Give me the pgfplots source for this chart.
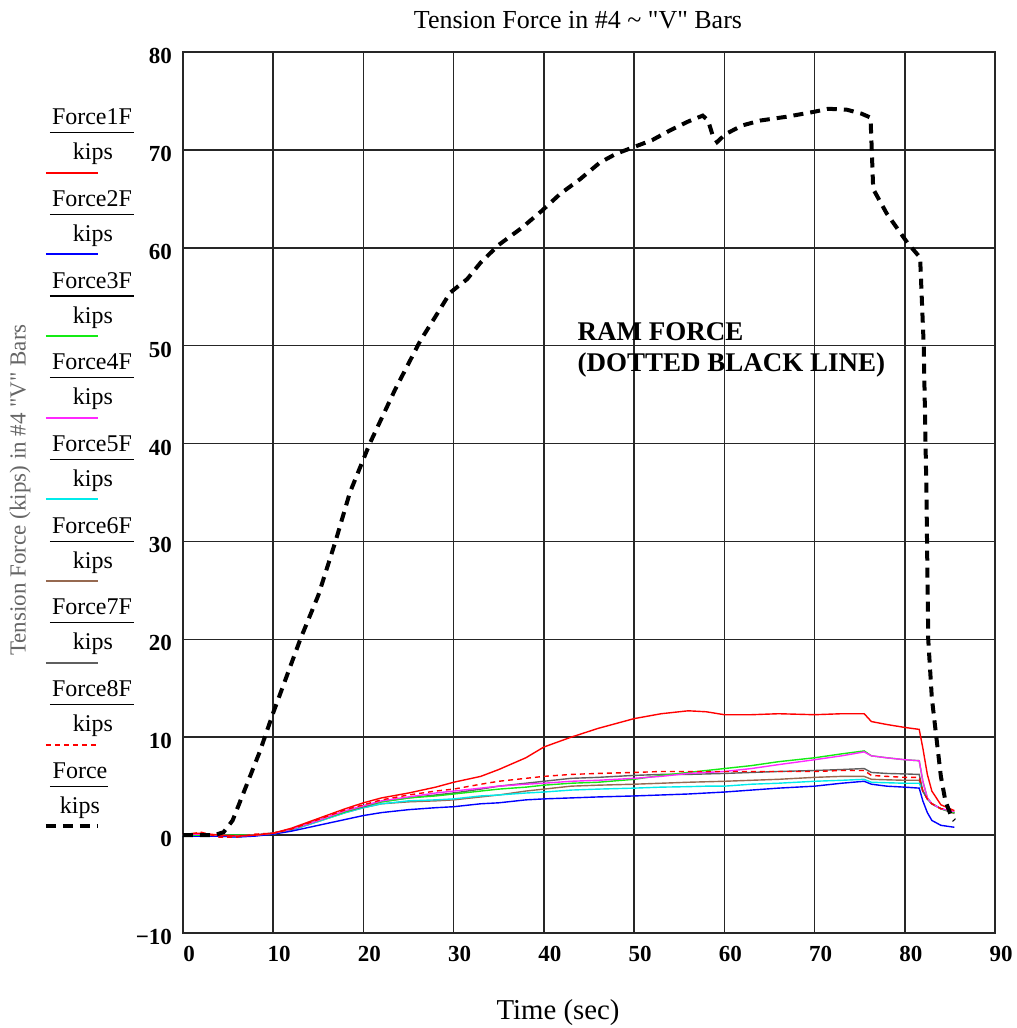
\documentclass[border=0pt]{standalone}
\usepackage{pgfplots}
\pgfplotsset{compat=1.18}
\usepackage{pgfplotstable}
\usepackage{fontspec}
\setmainfont{Liberation Serif}
\usetikzlibrary{calc}

\definecolor{fgreen}{RGB}{20,235,20}
\definecolor{fmag}{RGB}{255,40,255}
\definecolor{fcyan}{RGB}{0,235,235}
\definecolor{fbrown}{RGB}{150,105,80}
\definecolor{fgray}{RGB}{95,95,95}

\tikzset{
  s1/.style={red, line width=0.7pt},
  s2/.style={blue, line width=0.7pt},
  s3/.style={fgreen, line width=0.7pt},
  s4/.style={fmag, line width=0.7pt},
  s5/.style={fcyan, line width=0.7pt},
  s6/.style={fbrown, line width=0.7pt},
  s7/.style={fgray, line width=0.7pt},
  s8/.style={red, line width=0.7pt, dash pattern=on 2.5pt off 2pt},
  s9/.style={black, line width=2pt, dash pattern=on 5pt off 3.5pt},
}

% bar forces, kips
\pgfplotstableread{
x     f1    f2    f3   f4   f5    f6    f7    f8
0     0.1  -0.1   0.0  0.1  0.0   0.0   0.1   0.0
2     0.2  -0.1   0.0  0.1 -0.1   0.0   0.0   0.3
4     0.0  -0.1   0.0  0.0 -0.1   0.0   0.0  -0.2
6    -0.1  -0.2   0.0 -0.1 -0.2  -0.1   0.0  -0.2
8     0.0  -0.1   0.0  0.0  0.0   0.0   0.0   0.1
10    0.2   0.1   0.2  0.2  0.1   0.2   0.2   0.2
12    0.7   0.4   0.6  0.6  0.5   0.5   0.6   0.6
15    1.7   1.0   1.5  1.5  1.4   1.4   1.5   1.6
18    2.7   1.6   2.4  2.5  2.3   2.3   2.4   2.6
20    3.3   2.0   3.0  3.0  2.8   2.8   2.9   3.1
22    3.8   2.3   3.4  3.5  3.2   3.2   3.4   3.6
25    4.3   2.6   3.8  3.9  3.5   3.4   3.8   4.1
28    4.9   2.8   4.0  4.3  3.6   3.5   4.1   4.5
30    5.4   2.9   4.2  4.5  3.7   3.6   4.3   4.7
33    6.0   3.2   4.5  4.8  4.0   3.9   4.7   5.2
35    6.7   3.3   4.7  5.0  4.1   4.1   5.0   5.5
38    7.9   3.6   4.9  5.2  4.3   4.5   5.3   5.8
40    9.0   3.7   5.1  5.3  4.4   4.7   5.5   6.0
43   10.0   3.8   5.3  5.5  4.6   5.0   5.8   6.2
46   10.9   3.9   5.4  5.6  4.7   5.1   5.9   6.3
50   11.9   4.0   5.7  5.8  4.8   5.2   6.1   6.4
53   12.4   4.1   6.1  6.0  4.9   5.3   6.2   6.5
56   12.7   4.2   6.4  6.3  4.95  5.4   6.2   6.5
58   12.6   4.3   6.6  6.4  5.0   5.45  6.25  6.5
60   12.3   4.4   6.8  6.5  5.0   5.5   6.3   6.5
63   12.3   4.6   7.1  6.8  5.2   5.6   6.4   6.5
66   12.4   4.8   7.5  7.2  5.3   5.7   6.5   6.5
70   12.3   5.0   7.9  7.7  5.5   5.9   6.6   6.5
73   12.4   5.3   8.3  8.1  5.6   6.0   6.7   6.6
75.5 12.4   5.5   8.6  8.5  5.7   6.0   6.8   6.6
76.3 11.6   5.2   8.1  8.1  5.4   5.7   6.4   6.1
78   11.3   5.0   7.9  7.9  5.35  5.65  6.3   6.0
80   11.0   4.9   7.7  7.7  5.3   5.6   6.25  5.9
81.6 10.8   4.8   7.6  7.6  5.3   5.6   6.2   5.9
82    8.9   3.5   5.5  5.5  4.5   4.5   4.5   4.5
82.5  6.2   2.3   3.8  3.8  3.7   3.7   3.7   3.7
83    4.5   1.5   3.2  3.2  3.2   3.2   3.2   3.2
84    3.1   1.0   2.7  2.7  2.7   2.7   2.7   2.7
85.5  2.5   0.8   2.3  2.4  2.3   2.2   2.3   2.5
}\bars

% ram force, kips
\pgfplotstableread{
x     ram
0     0.0
3.5   0.0
4.5   0.3
5.5   1.5
7     5.0
8.5   8.5
10   12.5
13   20.0
15   24.5
16.9 30.0
18.5 35.0
20.7 40.0
23.5 45.5
26.3 50.5
28   53.0
29.6 55.4
30.4 56.0
31.5 56.8
33   58.5
35   60.3
37.5 62.0
39.8 63.8
41.8 65.5
44   67.0
46.2 68.7
48   69.6
50   70.3
52   71.0
54   72.0
56   72.9
57.6 73.5
58.2 73.0
58.7 71.5
59.2 70.8
60.1 71.6
62   72.5
64   73.0
67   73.4
70   73.9
71.5 74.2
73.6 74.1
75.2 73.7
76.2 73.3
76.3 71.0
76.5 66.0
78   63.5
80.3 60.5
81.7 59.0
82.1 50.0
82.4 35.0
82.6 20.0
83   14.0
83.5 10.0
84    6.0
84.5  3.5
85.2  1.8
85.5  1.5
}\ram

\begin{document}
\begin{tikzpicture}
\begin{axis}[
    name=ax,
    scale only axis,
    width=406pt, height=440.5pt,
    xmin=0, xmax=90, ymin=-10, ymax=80,
    xtick={0,10,...,90},
    ytick={-10,0,...,80},
    xticklabels={0,10,20,30,40,50,60,70,80,90},
    yticklabels={−10,0,10,20,30,40,50,60,70,80},
    grid=major,
    major grid style={black!85, line width=0.75pt},
    axis line style={black!85, line width=0.8pt},
    tick style={draw=none},
    ticklabel style={font=\fontsize{11.5}{12}\selectfont\bfseries},
    xticklabel style={anchor=north, xshift=3pt, yshift=-3pt},
    yticklabel style={anchor=east, xshift=-2pt, yshift=-2pt},
  ]
  \addplot[s6] table[x=x, y=f6] {\bars};
  \addplot[s5] table[x=x, y=f5] {\bars};
  \addplot[s2] table[x=x, y=f2] {\bars};
  \addplot[s7] table[x=x, y=f7] {\bars};
  \addplot[s3] table[x=x, y=f3] {\bars};
  \addplot[s4] table[x=x, y=f4] {\bars};
  \addplot[s8] table[x=x, y=f8] {\bars};
  \addplot[s1] table[x=x, y=f1] {\bars};
  \addplot[s9] table[x=x, y=ram] {\ram};
  \node[anchor=north west, inner sep=0pt, align=left,
        font=\fontsize{13.5}{15.5}\selectfont\bfseries]
    at (axis cs:43.7,52.4) {RAM FORCE\\(DOTTED BLACK LINE)};
\end{axis}

\begin{scope}[shift={(ax.south west)}, x=1pt, y=1pt]
  \node[font=\fontsize{13}{15}\selectfont, anchor=base] at (197.5,452) {Tension Force in \#4 \textasciitilde{} \textquotedbl V\textquotedbl{} Bars};
  \node[font=\fontsize{14.4}{16}\selectfont, anchor=base] at (187.5,-43) {Time (sec)};
  \node[font=\fontsize{11.5}{13}\selectfont, text=black!60, rotate=90] at (-81.5,221.5) {Tension Force (kips) in \#4 \textquotedbl V\textquotedbl{} Bars};
  \foreach \i/\nm/\st in {0/Force1F/s1,1/Force2F/s2,2/Force3F/s3,3/Force4F/s4,4/Force5F/s5,5/Force6F/s6,6/Force7F/s7,7/Force8F/s8} {
    \pgfmathsetmacro\yb{(933-132.7-81.7*\i)*0.5}
    \node[font=\fontsize{12}{14}\selectfont, anchor=base] at (-45.5,\yb+4) {\nm};
    \draw[black, line width=0.6pt] (-66.5,\yb) -- (-24.5,\yb);
    \node[font=\fontsize{12}{14}\selectfont, anchor=base] at (-45,\yb-13.5) {kips};
    \draw[\st, line width=1pt] (-68.5,\yb-20) -- (-42.5,\yb-20);
  }
  \pgfmathsetmacro\yb{(933-132.7-81.7*8)*0.5}
  \node[font=\fontsize{12}{14}\selectfont, anchor=base] at (-51.5,\yb+4) {Force};
  \draw[black, line width=0.6pt] (-66.5,\yb) -- (-37.5,\yb);
  \node[font=\fontsize{12}{14}\selectfont, anchor=base] at (-51.5,\yb-13.5) {kips};
  \draw[s9] (-68.5,\yb-20) -- (-42.5,\yb-20);
\end{scope}

\pgfresetboundingbox
\path ($(ax.south west)+(-91.5pt,-47.5pt)$) rectangle ($(ax.south west)+(417pt,466.5pt)$);
\end{tikzpicture}
\end{document}
